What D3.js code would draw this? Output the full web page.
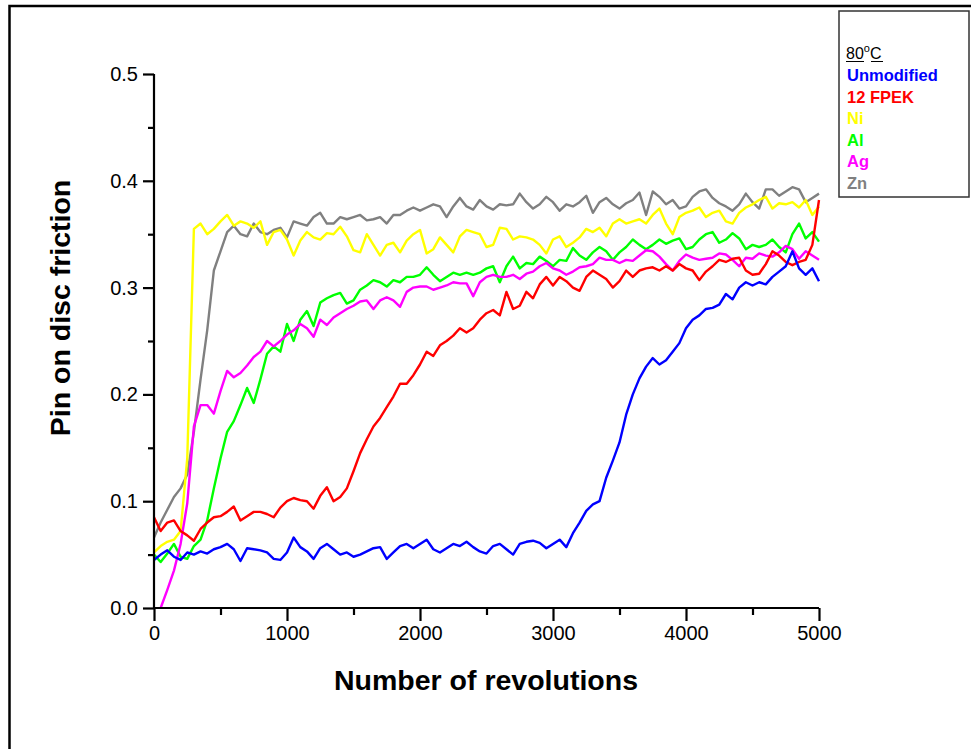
<!DOCTYPE html>
<html><head><meta charset="utf-8">
<script src="https://cdn.jsdelivr.net/npm/d3@7"></script>
<style>
body{margin:0;background:#fff;}
text{font-family:"Liberation Sans",Arial,sans-serif;}
</style></head>
<body><svg id="c" width="971" height="749"></svg>
<script>
// revolutions sampled every 50
const revolutions = d3.range(0, 5001, 50);

const unmodified = [0.045,0.05,0.054,0.048,0.045,0.052,0.05,0.053,0.051,0.055,0.057,0.06,0.055,0.044,0.056,0.055,0.054,0.052,0.046,0.045,
0.052,0.066,0.057,0.053,0.046,0.056,0.06,0.055,0.05,0.052,0.048,0.05,0.053,0.056,0.057,0.046,0.052,0.058,0.06,0.056,
0.06,0.064,0.055,0.052,0.056,0.06,0.058,0.062,0.057,0.053,0.051,0.058,0.06,0.055,0.05,0.06,0.062,0.063,0.061,0.056,
0.06,0.064,0.057,0.07,0.08,0.091,0.097,0.1,0.122,0.138,0.155,0.181,0.2,0.215,0.226,0.234,0.228,0.232,0.24,0.248,
0.262,0.27,0.274,0.28,0.281,0.284,0.294,0.289,0.3,0.305,0.302,0.305,0.303,0.31,0.315,0.32,0.334,0.318,0.312,0.318,0.306];

const fpek12 = [0.085,0.072,0.08,0.082,0.072,0.068,0.063,0.074,0.08,0.085,0.086,0.09,0.095,0.082,0.086,0.09,0.09,0.088,0.085,0.094,
0.1,0.103,0.101,0.1,0.093,0.105,0.113,0.1,0.104,0.112,0.128,0.145,0.158,0.17,0.178,0.188,0.198,0.21,0.21,0.218,
0.228,0.24,0.236,0.246,0.25,0.255,0.262,0.258,0.262,0.27,0.276,0.279,0.274,0.296,0.28,0.283,0.296,0.29,0.303,0.31,
0.302,0.31,0.306,0.3,0.297,0.31,0.316,0.312,0.308,0.3,0.306,0.316,0.31,0.316,0.318,0.319,0.316,0.32,0.316,0.322,
0.318,0.316,0.307,0.315,0.32,0.326,0.324,0.327,0.328,0.316,0.312,0.313,0.322,0.334,0.33,0.324,0.321,0.324,0.326,0.34,0.382];

const ni = [0.052,0.058,0.062,0.064,0.072,0.14,0.355,0.36,0.35,0.355,0.362,0.368,0.358,0.362,0.36,0.356,0.362,0.34,0.352,0.354,
0.345,0.33,0.344,0.352,0.347,0.345,0.351,0.35,0.357,0.348,0.335,0.333,0.35,0.34,0.33,0.34,0.342,0.333,0.344,0.35,
0.354,0.332,0.336,0.347,0.34,0.333,0.348,0.354,0.352,0.35,0.338,0.34,0.356,0.355,0.345,0.348,0.347,0.345,0.34,0.332,
0.345,0.348,0.338,0.342,0.347,0.355,0.352,0.356,0.348,0.36,0.364,0.36,0.362,0.364,0.36,0.368,0.374,0.36,0.35,0.366,
0.37,0.372,0.375,0.366,0.37,0.372,0.362,0.36,0.37,0.375,0.378,0.382,0.385,0.374,0.379,0.378,0.38,0.375,0.382,0.368,0.376];

const al = [0.05,0.043,0.051,0.06,0.048,0.046,0.058,0.064,0.082,0.112,0.14,0.165,0.175,0.19,0.206,0.192,0.214,0.238,0.245,0.24,
0.266,0.25,0.27,0.278,0.264,0.286,0.29,0.293,0.295,0.285,0.288,0.298,0.302,0.307,0.305,0.301,0.307,0.305,0.31,0.31,
0.312,0.319,0.312,0.306,0.31,0.314,0.312,0.314,0.312,0.314,0.318,0.32,0.305,0.32,0.329,0.318,0.323,0.322,0.329,0.325,
0.32,0.326,0.325,0.337,0.33,0.326,0.333,0.338,0.334,0.326,0.333,0.338,0.345,0.34,0.336,0.34,0.345,0.341,0.344,0.346,
0.336,0.338,0.345,0.35,0.352,0.342,0.345,0.351,0.346,0.336,0.34,0.338,0.34,0.345,0.338,0.333,0.35,0.36,0.346,0.352,0.343];

const ag = [null,0.0,0.017,0.035,0.06,0.098,0.17,0.19,0.19,0.182,0.203,0.222,0.216,0.22,0.227,0.235,0.24,0.25,0.245,0.25,
0.256,0.26,0.266,0.262,0.254,0.27,0.265,0.272,0.276,0.28,0.283,0.287,0.288,0.28,0.288,0.291,0.288,0.282,0.296,0.3,
0.301,0.301,0.298,0.3,0.302,0.305,0.304,0.304,0.292,0.305,0.31,0.312,0.31,0.31,0.312,0.308,0.313,0.315,0.32,0.323,
0.318,0.316,0.312,0.315,0.319,0.32,0.322,0.328,0.326,0.326,0.323,0.326,0.325,0.33,0.335,0.334,0.329,0.322,0.316,0.325,
0.331,0.328,0.326,0.327,0.328,0.332,0.331,0.326,0.32,0.328,0.327,0.332,0.33,0.329,0.333,0.339,0.336,0.327,0.334,0.33,0.326];

const zn = [0.066,0.08,0.092,0.104,0.112,0.125,0.165,0.214,0.26,0.316,0.334,0.352,0.358,0.35,0.348,0.36,0.352,0.35,0.354,0.356,
0.347,0.362,0.36,0.358,0.366,0.37,0.36,0.36,0.366,0.364,0.366,0.368,0.363,0.364,0.366,0.36,0.368,0.368,0.372,0.375,
0.372,0.375,0.378,0.376,0.366,0.376,0.384,0.376,0.373,0.382,0.376,0.373,0.378,0.377,0.378,0.388,0.38,0.374,0.378,0.385,
0.38,0.372,0.378,0.376,0.38,0.386,0.37,0.38,0.384,0.378,0.374,0.379,0.382,0.389,0.368,0.39,0.385,0.378,0.382,0.374,
0.376,0.385,0.39,0.392,0.384,0.379,0.376,0.372,0.378,0.388,0.38,0.374,0.392,0.392,0.386,0.39,0.394,0.392,0.38,0.384,0.388];

const seriesNames = ["Unmodified","12 FPEK","Ni","Al","Ag","Zn"];
const seriesColors = ["#0000ff","#ff0000","#ffff00","#00ff00","#ff00ff","#808080"];
const xTicks = [0,1000,2000,3000,4000,5000];
const yTicks = [0,0.1,0.2,0.3,0.4,0.5];

const svg = d3.select("#c");
// outer frame
svg.append("rect").attr("x",9.5).attr("y",6).attr("width",980).attr("height",760)
  .attr("fill","none").attr("stroke","#000").attr("stroke-width",2.5);

const x = d3.scaleLinear().domain([0,5000]).range([154,819]);
const y = d3.scaleLinear().domain([0,0.5]).range([608,74]);

const allSeries = [unmodified,fpek12,ni,al,ag,zn];
const drawOrder = [5,2,3,4,1,0];
const line = d3.line().defined(d=>d[1]!==null).x(d=>x(d[0])).y(d=>y(d[1]));
const g = svg.append("g");
drawOrder.forEach(i=>{
  const pts = revolutions.map((r,k)=>[r,allSeries[i][k]]);
  g.append("path").datum(pts).attr("d",line).attr("fill","none")
   .attr("stroke",seriesColors[i]).attr("stroke-width",2.4).attr("stroke-linejoin","round");
});

// axes
const fs = "20px";
const xAx = svg.append("g").attr("transform","translate(0,608)")
  .call(d3.axisBottom(x).tickValues(xTicks).tickSize(13).tickPadding(5).tickFormat(d3.format("d")));
svg.append("g").attr("transform","translate(0,608)")
  .call(d3.axisBottom(x).tickValues(d3.range(500,5000,1000)).tickSize(7).tickFormat(""))
  .select(".domain").remove();
const yAx = svg.append("g").attr("transform","translate(154,0)")
  .call(d3.axisLeft(y).tickValues(yTicks).tickSize(11).tickPadding(5).tickFormat(d3.format(".1f")));
svg.append("g").attr("transform","translate(154,0)")
  .call(d3.axisLeft(y).tickValues([0.05,0.15,0.25,0.35,0.45]).tickSize(6).tickFormat(""))
  .select(".domain").remove();
svg.selectAll(".domain").attr("stroke-width",2.2).attr("stroke","#000");
svg.selectAll(".tick line").attr("stroke-width",2.2).attr("stroke","#000");
svg.selectAll(".tick text").attr("font-size",fs).attr("fill","#000")
  .attr("font-family","'Liberation Sans',Arial,sans-serif");
xAx.select(".domain").attr("d","M154,0H819");
yAx.select(".domain").attr("d","M0,608V74");

// titles
svg.append("text").attr("x",486).attr("y",690).attr("text-anchor","middle")
  .attr("font-size","28.5px").attr("font-weight","bold").text("Number of revolutions");
svg.append("text").attr("transform","translate(70,308) rotate(-90)").attr("text-anchor","middle")
  .attr("font-size","28.5px").attr("font-weight","bold").text("Pin on disc friction");

// legend
svg.append("rect").attr("x",839).attr("y",11).attr("width",130).attr("height",186)
  .attr("fill","#fff").attr("stroke","#333").attr("stroke-width",1.5);
const t80 = svg.append("text").attr("x",846).attr("y",59).attr("font-size","16px")
  .attr("fill","#000");
t80.append("tspan").text("80");
t80.append("tspan").attr("font-size","11px").attr("dy",-7).text("o");
t80.append("tspan").attr("dy",7).text("C");
svg.append("line").attr("x1",846).attr("x2",864).attr("y1",61.5).attr("y2",61.5).attr("stroke","#000").attr("stroke-width",1);
svg.append("line").attr("x1",871).attr("x2",883).attr("y1",61.5).attr("y2",61.5).attr("stroke","#000").attr("stroke-width",1);
seriesNames.forEach((n,i)=>{
  svg.append("text").attr("x",847).attr("y",81+i*21.6).attr("font-size","16.5px")
    .attr("font-weight","bold").attr("fill",seriesColors[i]).text(n);
});
</script></body></html>
